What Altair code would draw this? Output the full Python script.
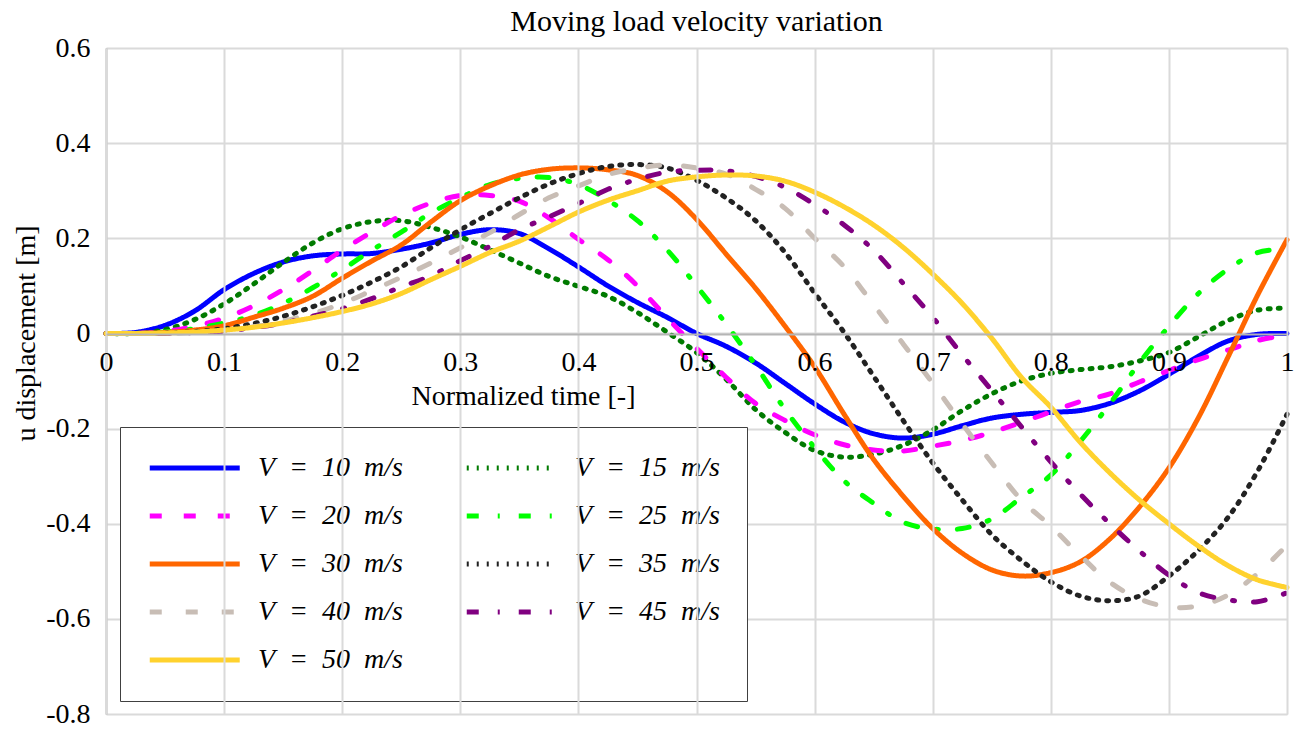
import altair as alt
import pandas as pd

FONT = "Liberation Serif"
SP = "\u2002"

# normalized time samples
t_values = [0.0, 0.025, 0.05, 0.075, 0.1, 0.125, 0.15, 0.175, 0.2, 0.225,
            0.25, 0.275, 0.3, 0.325, 0.35, 0.375, 0.4, 0.425, 0.45, 0.475,
            0.5, 0.525, 0.55, 0.575, 0.6, 0.625, 0.65, 0.675, 0.7, 0.725,
            0.75, 0.775, 0.8, 0.825, 0.85, 0.875, 0.9, 0.925, 0.95, 0.975, 1.0]

speeds = ["10", "15", "20", "25", "30", "35", "40", "45", "50"]
series_labels = ["V" + SP + "=" + SP + s + SP + "m/s" for s in speeds]

v10 = [0, 0.002, 0.017, 0.047, 0.092, 0.126, 0.15, 0.163, 0.167, 0.168,
       0.177, 0.19, 0.208, 0.218, 0.21, 0.178, 0.14, 0.1, 0.065, 0.034,
       0.0, -0.027, -0.062, -0.105, -0.148, -0.186, -0.211, -0.22, -0.212, -0.194,
       -0.178, -0.17, -0.166, -0.162, -0.147, -0.121, -0.086, -0.048, -0.016, -0.002, 0.0]
v15 = [0, 0.0, 0.008, 0.029, 0.062, 0.104, 0.149, 0.19, 0.22, 0.235,
       0.237, 0.223, 0.203, 0.176, 0.148, 0.12, 0.099, 0.078, 0.044, 0.003,
       -0.04, -0.096, -0.16, -0.208, -0.246, -0.26, -0.254, -0.235, -0.203, -0.162,
       -0.127, -0.1, -0.084, -0.076, -0.07, -0.058, -0.04, -0.007, 0.027, 0.049, 0.053]
v20 = [0, 0.0, 0.004, 0.015, 0.032, 0.058, 0.092, 0.132, 0.175, 0.213,
       0.248, 0.274, 0.29, 0.29, 0.278, 0.243, 0.198, 0.155, 0.1, 0.033,
       -0.031, -0.092, -0.147, -0.183, -0.213, -0.234, -0.245, -0.247, -0.237, -0.225,
       -0.208, -0.187, -0.165, -0.143, -0.127, -0.102, -0.078, -0.055, -0.035, -0.015, -0.003]
v25 = [0, 0.0, 0.003, 0.01, 0.022, 0.038, 0.063, 0.096, 0.134, 0.175,
       0.213, 0.253, 0.285, 0.313, 0.326, 0.328, 0.313, 0.28, 0.237, 0.176,
       0.1, 0.02, -0.067, -0.16, -0.24, -0.31, -0.357, -0.397, -0.411, -0.41,
       -0.39, -0.345, -0.298, -0.227, -0.148, -0.062, 0.015, 0.084, 0.135, 0.17, 0.178]
v30 = [0, 0.0, 0.002, 0.007, 0.016, 0.034, 0.053, 0.078, 0.116, 0.152,
       0.186, 0.234, 0.279, 0.31, 0.333, 0.345, 0.348, 0.344, 0.332, 0.298,
       0.24, 0.167, 0.095, 0.015, -0.07, -0.17, -0.265, -0.342, -0.41, -0.462,
       -0.497, -0.51, -0.503, -0.48, -0.432, -0.365, -0.283, -0.177, -0.05, 0.08, 0.197]
v35 = [0, 0.0, 0.001, 0.004, 0.01, 0.021, 0.036, 0.056, 0.08, 0.108,
       0.14, 0.18, 0.218, 0.252, 0.285, 0.314, 0.336, 0.351, 0.355, 0.348,
       0.322, 0.285, 0.237, 0.17, 0.085, 0.002, -0.09, -0.183, -0.272, -0.35,
       -0.423, -0.477, -0.522, -0.552, -0.562, -0.552, -0.51, -0.456, -0.387, -0.29, -0.17]
v40 = [0, 0.0, 0.0, 0.002, 0.006, 0.014, 0.026, 0.042, 0.063, 0.09,
       0.118, 0.148, 0.18, 0.212, 0.25, 0.285, 0.31, 0.334, 0.347, 0.354,
       0.348, 0.335, 0.303, 0.263, 0.2, 0.14, 0.06, -0.022, -0.105, -0.19,
       -0.272, -0.35, -0.405, -0.467, -0.523, -0.558, -0.575, -0.573, -0.55, -0.505, -0.445]
v45 = [0, 0.0, 0.0, 0.002, 0.005, 0.012, 0.022, 0.036, 0.052, 0.073,
       0.098, 0.121, 0.153, 0.183, 0.218, 0.245, 0.273, 0.303, 0.324, 0.339,
       0.343, 0.342, 0.33, 0.307, 0.271, 0.228, 0.175, 0.105, 0.034, -0.045,
       -0.12, -0.196, -0.27, -0.338, -0.4, -0.457, -0.508, -0.545, -0.56, -0.564, -0.545]
v50 = [0, 0.0, 0.001, 0.003, 0.007, 0.013, 0.022, 0.033, 0.046, 0.062,
       0.084, 0.113, 0.141, 0.17, 0.194, 0.224, 0.255, 0.28, 0.3, 0.32,
       0.329, 0.333, 0.331, 0.32, 0.297, 0.266, 0.228, 0.181, 0.125, 0.063,
       -0.01, -0.092, -0.155, -0.229, -0.293, -0.35, -0.4, -0.447, -0.488, -0.518, -0.534]

all_series = [v10, v15, v20, v25, v30, v35, v40, v45, v50]

colors = ["#0000ff", "#007a00", "#ff00ff", "#00ff00", "#ff6600",
          "#222222", "#c8bdb5", "#800080", "#ffd22e"]
dashes = [[1, 0], [2, 8], [12, 22], [12, 19, 2, 19], [1, 0],
          [2, 8], [12, 24], [12, 19, 2, 19], [1, 0]]

x_ticks = [0, 0.1, 0.2, 0.3, 0.4, 0.5, 0.6, 0.7, 0.8, 0.9, 1]
y_ticks = [-0.8, -0.6, -0.4, -0.2, 0, 0.2, 0.4, 0.6]

rows = []
for lab, vals in zip(series_labels, all_series):
    for ti, vi in zip(t_values, vals):
        rows.append({"t": ti, "u": vi, "series": lab})
df = pd.DataFrame(rows)

legend = alt.Legend(
    title=None, orient="none", legendX=14, legendY=379, columns=2,
    direction="horizontal",
    symbolType="M-1,0H7", symbolSize=506, symbolStrokeWidth=5,
    labelFont=FONT, labelFontSize=28, labelFontStyle="italic", labelColor="black",
    labelOffset=83, labelLimit=0, rowPadding=20, columnPadding=53, padding=27,
    strokeColor="#404040", fillColor="white",
)

label_expr = "datum.value == 0 ? '0' : toString(round(datum.value * 10) / 10)"

chart = alt.Chart(df).mark_line(
    strokeWidth=5, strokeCap="round", strokeJoin="round", interpolate="catmull-rom"
).encode(
    x=alt.X("t:Q", scale=alt.Scale(domain=[0, 1], nice=False),
            axis=alt.Axis(values=x_ticks, title="Normalized time [-]", offset=-380,
                          grid=True, gridColor="#dadada", gridWidth=2,
                          domainColor="#b5b5b5", domainWidth=2, ticks=False,
                          labelPadding=14, labelFont=FONT, labelFontSize=28,
                          labelColor="black", labelExpr=label_expr, labelFlush=False,
                          titleFont=FONT, titleFontSize=28, titleFontWeight="normal",
                          titleColor="black", titlePadding=6, titleX=417, zindex=1)),
    y=alt.Y("u:Q", scale=alt.Scale(domain=[-0.8, 0.6], nice=False),
            axis=alt.Axis(values=y_ticks, title="u displacement [m]",
                          grid=True, gridColor="#dadada", gridWidth=2,
                          domainColor="#b5b5b5", domainWidth=2, ticks=False,
                          labelPadding=16, labelFont=FONT, labelFontSize=28,
                          labelColor="black", labelExpr=label_expr, labelFlush=False,
                          titleFont=FONT, titleFontSize=28, titleFontWeight="normal",
                          titleColor="black", titleX=-80, titleY=285,
                          titleBaseline="middle", titleAngle=270)),
    color=alt.Color("series:N", scale=alt.Scale(domain=series_labels, range=colors),
                    legend=legend),
    strokeDash=alt.StrokeDash("series:N", scale=alt.Scale(domain=series_labels, range=dashes),
                              legend=legend),
).properties(
    width=1181, height=666,
    title=alt.Title("Moving load velocity variation", font=FONT, fontSize=30,
                    fontWeight="normal", color="black", offset=-3, anchor="middle"),
    autosize=alt.AutoSizeParams(type="none"),
    padding={"left": 98, "top": 40, "right": 12, "bottom": 16},
).configure_view(stroke=None).configure(background="white")

chart.save("out.html", embed_options={"renderer": "svg", "actions": False})
